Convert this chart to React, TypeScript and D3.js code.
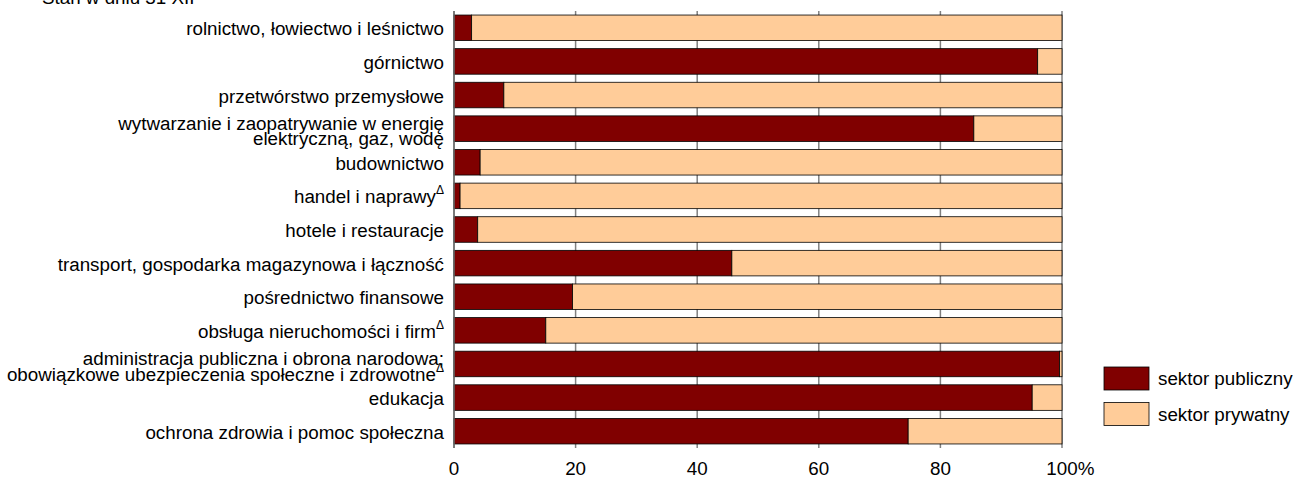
import React from "react";
import * as d3 from "d3";

const categories: string[][] = [
  ["rolnictwo, łowiectwo i leśnictwo"],
  ["górnictwo"],
  ["przetwórstwo przemysłowe"],
  ["wytwarzanie i zaopatrywanie w energię", "elektryczną, gaz, wodę"],
  ["budownictwo"],
  ["handel i naprawy"],
  ["hotele i restauracje"],
  ["transport, gospodarka magazynowa i łączność"],
  ["pośrednictwo finansowe"],
  ["obsługa nieruchomości i firm"],
  ["administracja publiczna i obrona narodowa;", "obowiązkowe ubezpieczenia społeczne i zdrowotne"],
  ["edukacja"],
  ["ochrona zdrowia i pomoc społeczna"],
];
const footnoted: boolean[] = [false, false, false, false, false, true, false, false, false, true, true, false, false];
const publicShare: number[] = [2.9, 96.0, 8.2, 85.5, 4.3, 1.0, 3.9, 45.7, 19.5, 15.1, 99.6, 95.1, 74.7];
const seriesNames: string[] = ["sektor publiczny", "sektor prywatny"];
const seriesColors: string[] = ["#800000", "#FFCC99"];
const xTicks: number[] = [0, 20, 40, 60, 80, 100];
const title = "Stan w dniu 31 XII";

const W = 1293;
const H = 478;
const FONT = "'Liberation Sans', Arial, sans-serif";
const FS = 18.8;

export default function App() {
  const x = d3.scaleLinear().domain([0, 100]).range([454, 1062]);
  const idx = categories.map((_, i) => String(i));
  const y = d3.scaleBand<string>().domain(idx).range([11, 448]).paddingInner(0.24).paddingOuter(0.12);
  const bw = y.bandwidth();
  const lineH = 15.5;

  return (
    <svg
      width={W}
      height={H}
      style={{ position: "absolute", left: 0, top: 0, background: "#fff" }}
      fontFamily={FONT}
    >
      <text x={42} y={4} fontSize={FS} fill="#000">{title}</text>

      {/* gridlines */}
      {xTicks.map((t) => (
        <line key={"g" + t} x1={x(t)} x2={x(t)} y1={11} y2={448} stroke="#808080" strokeWidth={1.5} />
      ))}

      {/* bars */}
      {publicShare.map((v, i) => {
        const y0 = y(String(i))!;
        return (
          <g key={"b" + i}>
            <rect x={x(0)} y={y0} width={x(v) - x(0)} height={bw} fill={seriesColors[0]} stroke="#000" strokeWidth={0.8} />
            <rect x={x(v)} y={y0} width={x(100) - x(v)} height={bw} fill={seriesColors[1]} stroke="#000" strokeWidth={0.8} />
          </g>
        );
      })}

      {/* left axis line */}
      <line x1={x(0)} x2={x(0)} y1={11} y2={448} stroke="#6e6e6e" strokeWidth={1.5} />

      {/* category labels */}
      {categories.map((lines, i) => {
        const cy = y(String(i))! + bw / 2;
        const n = lines.length;
        const shift = n > 1 ? 2.5 : 1;
        return (
          <text key={"l" + i} x={444} textAnchor="end" fontSize={FS} fill="#000">
            {lines.map((ln, j) => (
              <tspan key={j} x={444} y={cy + shift + (j - (n - 1) / 2) * lineH} dy="0.35em">
                {ln}
                {footnoted[i] && j === n - 1 ? (
                  <tspan fontSize={12} dy="-0.75em">Δ</tspan>
                ) : null}
              </tspan>
            ))}
          </text>
        );
      })}

      {/* x tick labels */}
      {xTicks.map((t) => (
        <text key={"t" + t} x={x(t)} y={475} textAnchor="middle" fontSize={FS} fill="#000">
          {t}
        </text>
      ))}
      <text x={x(100) + 15.7} y={475} fontSize={FS} fill="#000">%</text>

      {/* legend */}
      {seriesNames.map((s, i) => (
        <g key={"lg" + i} transform={`translate(1104, ${367 + i * 35.5})`}>
          <rect x={0} y={0} width={45} height={23} fill={seriesColors[i]} stroke="#000" strokeWidth={0.8} />
          <text x={54} y={11.5} dy="0.35em" fontSize={FS} fill="#000">{s}</text>
        </g>
      ))}
    </svg>
  );
}
